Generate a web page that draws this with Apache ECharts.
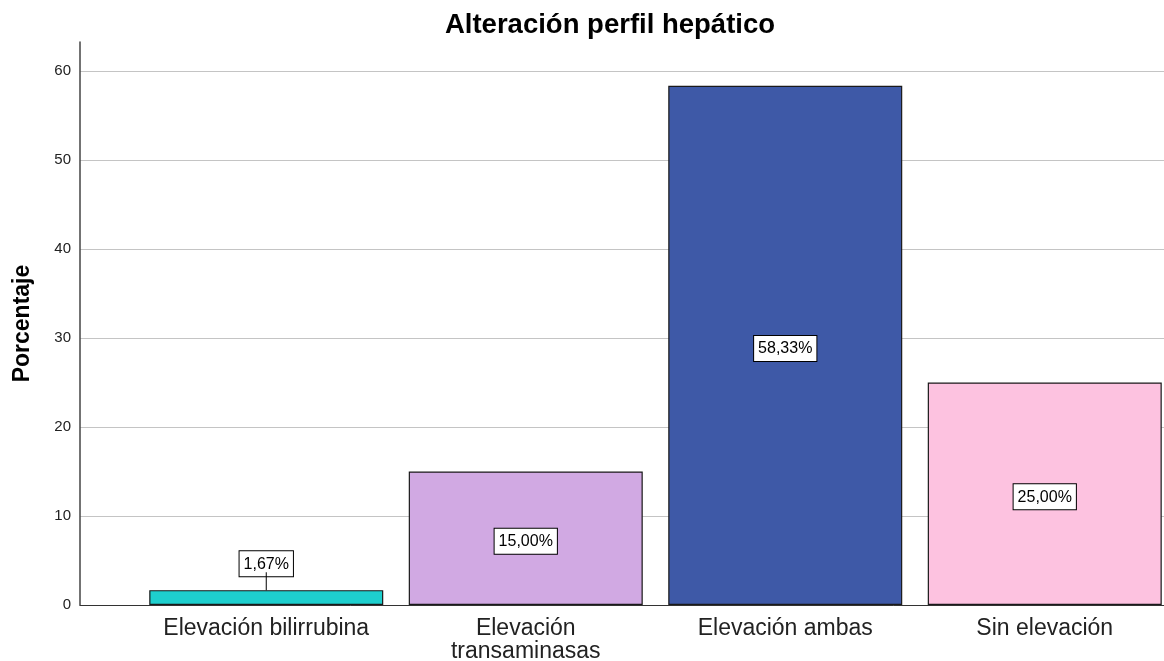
<!DOCTYPE html>
<html>
<head>
<meta charset="utf-8">
<title>Alteración perfil hepático</title>
<script src="https://cdn.jsdelivr.net/npm/echarts@6/dist/echarts.min.js"></script>
<style>
  html, body { margin: 0; padding: 0; background: #ffffff; }
  #chart { width: 1164px; height: 661px; }
</style>
</head>
<body>
<div id="chart"></div>
<script>
// Categories and percentages
const categories = ['Elevación bilirrubina', 'Elevación\ntransaminasas', 'Elevación ambas', 'Sin elevación'];
const percentages = [1.67, 15.00, 58.33, 25.00];
const barColors = ['#1ecfce', '#d1a9e3', '#3e59a7', '#fdc2e0'];
const yTicks = { min: 0, max: 60, interval: 10 };

const FONT = '"Liberation Sans", Arial, sans-serif';

// value -> "58,33%"
function pctText(v) {
  return v.toFixed(2).replace('.', ',') + '%';
}

const chart = echarts.init(document.getElementById('chart'), null, { renderer: 'canvas' });

// pixel scale of the plot: 0 at y=605, 60 at y=71
const plotTop = 42, plotBottom = 56;
const pxPerUnit = (605 - 71) / 60;
const axisTopValue = (605 - plotTop) / pxPerUnit;

const boxStyle = {
  fontFamily: FONT,
  fontSize: 16,
  color: '#000',
  backgroundColor: '#ffffff',
  borderColor: '#000',
  borderWidth: 1,
  padding: [5, 4, 4, 4],
  lineHeight: 17
};

const option = {
  animation: false,
  backgroundColor: '#ffffff',
  title: {
    text: 'Alteración perfil hepático',
    left: 605,
    top: 6,
    textAlign: 'center',
    textStyle: { fontFamily: FONT, fontSize: 27.5, fontWeight: 'bold', color: '#000' }
  },
  grid: [
    // background grid: gridlines, tick labels, baseline
    { left: 80, right: 0, top: 71, bottom: plotBottom, containLabel: false, outerBoundsMode: 'none' },
    // bars; the last band runs a little past the right edge
    { left: 136.5, width: 1038, top: plotTop, bottom: plotBottom, containLabel: false, outerBoundsMode: 'none' }
  ],
  xAxis: [
    {
      gridIndex: 0, type: 'value', min: 0, max: 1,
      axisLine: { show: true, lineStyle: { color: '#333', width: 1 } },
      axisTick: { show: false }, axisLabel: { show: false }, splitLine: { show: false }
    },
    {
      gridIndex: 1, type: 'category', data: categories,
      axisLine: { show: false }, axisTick: { show: false },
      axisLabel: {
        fontFamily: FONT, fontSize: 23, color: '#222', margin: 12, lineHeight: 23, interval: 0
      }
    }
  ],
  yAxis: [
    {
      gridIndex: 0, type: 'value', min: yTicks.min, max: yTicks.max, interval: yTicks.interval,
      axisLine: { show: false }, axisTick: { show: false },
      axisLabel: { fontFamily: FONT, fontSize: 15, color: '#222', margin: 9 },
      splitLine: { show: true, lineStyle: { color: '#c4c4c4', width: 1 } }
    },
    {
      gridIndex: 1, type: 'value', min: 0, max: axisTopValue, offset: 56.5,
      name: 'Porcentaje', nameLocation: 'middle', nameRotate: 90, nameGap: 46,
      nameTextStyle: { fontFamily: FONT, fontSize: 23, fontWeight: 'bold', color: '#000' },
      axisLine: { show: true, lineStyle: { color: '#444', width: 1.5 } },
      axisTick: { show: false }, axisLabel: { show: false }, splitLine: { show: false }
    }
  ],
  series: [
    {
      type: 'bar',
      xAxisIndex: 1, yAxisIndex: 1,
      barWidth: 234,
      data: percentages.map((v, i) => ({
        value: v,
        itemStyle: { color: barColors[i] },
        label: i === 0 ? {
          position: 'top',
          distance: 0,
          formatter: p => '{box|' + pctText(p.value) + '}\n{stem|}'
        } : {
          position: 'inside',
          offset: [0, 3],
          formatter: p => '{box|' + pctText(p.value) + '}'
        }
      })),
      itemStyle: { borderColor: '#1a1a1a', borderWidth: 1.2 },
      label: {
        show: true,
        rich: {
          box: boxStyle,
          stem: { width: 1, height: 18, backgroundColor: '#000' }
        }
      }
    }
  ]
};

chart.setOption(option);
</script>
</body>
</html>
